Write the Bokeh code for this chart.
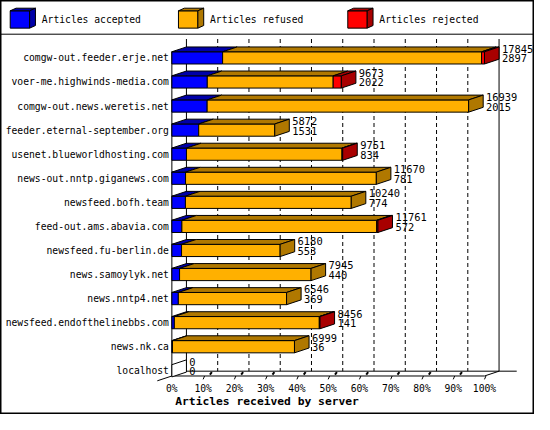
from bokeh.plotting import figure
from bokeh.models import Range1d
from bokeh.core.properties import value
from bokeh.embed import file_html
from bokeh.resources import INLINE

hosts = ["comgw-out.feeder.erje.net", "voer-me.highwinds-media.com",
         "comgw-out.news.weretis.net", "feeder.eternal-september.org",
         "usenet.blueworldhosting.com", "news-out.nntp.giganews.com",
         "newsfeed.bofh.team", "feed-out.ams.abavia.com",
         "newsfeed.fu-berlin.de", "news.samoylyk.net", "news.nntp4.net",
         "newsfeed.endofthelinebbs.com", "news.nk.ca", "localhost"]
accepted = [2897, 2022, 2015, 1531, 834, 781, 774, 572, 553, 440, 369, 141, 36, 0]
refused = [14782, 7186, 14924, 4341, 8877, 10889, 9466, 11119, 5627, 7505, 6177, 8275, 6963, 0]
rejected = [166, 465, 0, 0, 40, 0, 0, 70, 0, 0, 0, 40, 0, 0]
ticks = list(range(0, 101, 10))
tick_labels = [f"{t}%" for t in ticks]
series = ["Articles accepted", "Articles refused", "Articles rejected"]
front_colors = ["#0000ff", "#ffb000", "#ff0000"]
shade_colors = ["#0000a8", "#b07800", "#a80000"]

totals = [a + f + r for a, f, r in zip(accepted, refused, rejected)]
scale = 100.0 / max(totals)

# layout measured in pixels of the original 550x430 picture
PX = 3.22      # pixels per percent
X0 = 176.5     # front 0% line
ROW = 25.0     # pixels per server row
Y0 = 59.6      # centre of first row
DX = 15 / PX   # 3d depth
DY = 5 / ROW
HALF = 6.35 / ROW
MONO = value("DejaVu Sans Mono")


def xp(px):
    return (px - X0) / PX


def yp(px):
    return (px - Y0) / ROW


p = figure(width=534, height=414, x_range=Range1d(xp(0), xp(550)),
           y_range=Range1d(yp(430), yp(0)), x_axis_type=None, y_axis_type=None,
           toolbar_location=None, output_backend="svg", min_border=0)
p.outline_line_color = "black"
p.outline_line_width = 2
p.background_fill_color = "white"
p.border_fill_color = "white"

# legend strip separator
p.line([xp(0), xp(550)], [yp(35), yp(35)], line_color="black")

# back wall and floor
base_f = yp(390)
base_b = base_f - DY
wall_top = yp(40)
grid_x = [t + DX for t in ticks[1:-1]]
p.segment(x0=grid_x, y0=[wall_top] * len(grid_x), x1=grid_x, y1=[base_b] * len(grid_x),
          line_color="black", line_dash="4 3")
p.segment(x0=[DX, 100 + DX], y0=[wall_top] * 2, x1=[DX, 100 + DX], y1=[base_b] * 2,
          line_color="black")
p.line([DX, xp(531.7)], [base_b, base_b], line_color="black")
p.line([-DX, DX], [base_f + DY, base_b], line_color="black")
p.line([0, 100, 100 + DX], [base_f, base_f, base_b], line_color="black")
p.line([0, 0], [yp(53), base_f], line_color="black")

# 3d ticks
tx = ticks[1:]
p.segment(x0=tx, y0=[yp(393.5)] * len(tx), x1=[t + 1.5 / PX for t in tx],
          y1=[base_f] * len(tx), line_color="black")
bx = ticks[1:-1]
p.segment(x0=[t + 7 / PX for t in bx], y0=[yp(388.5)] * len(bx),
          x1=[t + 9 / PX for t in bx], y1=[yp(386)] * len(bx),
          line_color="black", line_width=2)

# bars
fl, fr, ft, fb, fc = [], [], [], [], []
px_, py_, pc = [], [], []
for i in range(len(hosts)):
    top, bottom = i - HALF, i + HALF
    left = 0.0
    last = None
    for k, v in enumerate([accepted[i], refused[i], rejected[i]]):
        if v <= 0:
            continue
        right = left + v * scale
        fl.append(left); fr.append(right); ft.append(top); fb.append(bottom)
        fc.append(front_colors[k])
        px_.append([left, right, right + DX, left + DX])
        py_.append([top, top, top - DY, top - DY])
        pc.append(shade_colors[k])
        left = right
        last = k
    px_.append([left, left, left + DX, left + DX])
    py_.append([top, bottom, bottom - DY, top - DY])
    pc.append(shade_colors[last] if last is not None else "white")

p.quad(left=fl, right=fr, top=ft, bottom=fb, fill_color=fc, line_color="black")
p.patches(px_, py_, fill_color=pc, line_color="black")

# value labels: total offered and accepted
lab_x = [t * scale + DX + 3 / PX for t in totals]
rows = list(range(len(hosts)))
p.text(x=lab_x, y=[r - 0.38 for r in rows], text=[str(t) for t in totals],
       text_font=MONO, text_font_size="10.4px", text_baseline="middle")
p.text(x=lab_x, y=[r + 0.02 for r in rows], text=[str(a) for a in accepted],
       text_font=MONO, text_font_size="10.4px", text_baseline="middle")

# server names
p.text(x=[xp(173.5)] * len(hosts), y=rows, text=hosts, text_font=MONO,
       text_font_size="9.7px", text_align="right", text_baseline="middle")

# percent axis
p.text(x=ticks, y=[yp(403.5)] * len(ticks), text=tick_labels, text_font=MONO,
       text_font_size="9.7px", text_align="center", text_baseline="middle")
p.text(x=[xp(180)], y=[yp(416.7)], text=["Articles received by server"],
       text_font=MONO, text_font_size="11.3px", text_font_style="bold",
       text_baseline="middle")

# legend with small cubes
leg_x = [10, 183.3, 357.7]
cx, cy, cc, sx, sy, sc = [], [], [], [], [], []
for lx, c, s in zip(leg_x, front_colors, shade_colors):
    cx.append([xp(lx), xp(lx + 20), xp(lx + 20), xp(lx)])
    cy.append([yp(10.7), yp(10.7), yp(28.7), yp(28.7)])
    cc.append(c)
    sx.append([xp(lx), xp(lx + 6), xp(lx + 26), xp(lx + 20)])
    sy.append([yp(10.7), yp(8), yp(8), yp(10.7)])
    sx.append([xp(lx + 20), xp(lx + 26), xp(lx + 26), xp(lx + 20)])
    sy.append([yp(10.7), yp(8), yp(26), yp(28.7)])
    sc += [s, s]
p.patches(cx, cy, fill_color=cc, line_color="black")
p.patches(sx, sy, fill_color=sc, line_color="black")
p.text(x=[xp(lx + 32.5) for lx in leg_x], y=[yp(20)] * 3, text=series,
       text_font=MONO, text_font_size="9.7px", text_baseline="middle")

open("out.html", "w").write(file_html(p, INLINE))
